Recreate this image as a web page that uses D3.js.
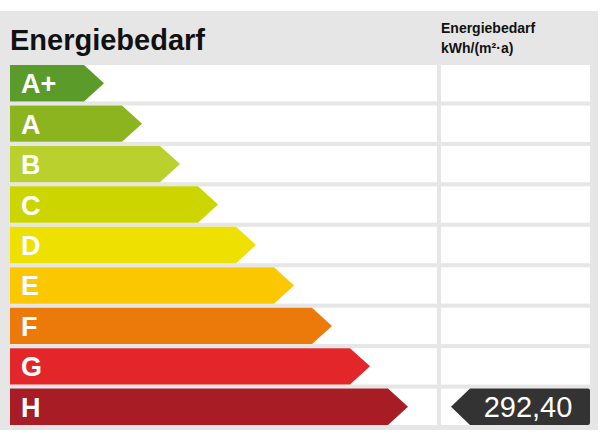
<!DOCTYPE html>
<html><head><meta charset="utf-8">
<script src="https://cdn.jsdelivr.net/npm/d3@7"></script>
<style>body{margin:0;background:#fff}text{font-family:"Liberation Sans",Arial,sans-serif}</style>
</head><body><svg id="c" width="600" height="443"></svg>
<script>
const classes = ["A+","A","B","C","D","E","F","G","H"];
const colors = ["#5b9b2a","#8bb41f","#bad02c","#cdd500","#eee000","#fbc700","#ec7a0b","#e2262a","#a71c25"];
const valueClass = "H";
const valueLabel = "292,40";
const title = "Energiebedarf";
const unitLines = ["Energiebedarf","kWh/(m²·a)"];

const svg = d3.select("#c");
svg.append("rect").attr("x",0).attr("y",11).attr("width",598).attr("height",419).attr("fill","#e6e6e6");
svg.append("text").attr("x",10).attr("y",50).attr("font-size",29).attr("font-weight","bold").attr("fill","#111").text(title);
unitLines.forEach((t,i)=>svg.append("text").attr("x",441).attr("y",33+i*20).attr("font-size",14).attr("font-weight","bold").attr("fill","#111").text(t));

const y = d3.scaleBand().domain(classes).range([65,425]).paddingInner(4/40).paddingOuter(0);
const x = d3.scaleLinear().domain([0,classes.length-1]).range([84,388]);
const h = y.bandwidth();
const g = svg.append("g");
classes.forEach((c,i)=>{
  const y0=y(c);
  g.append("rect").attr("x",10).attr("y",y0).attr("width",427).attr("height",h).attr("fill","#fff");
  g.append("rect").attr("x",441).attr("y",y0).attr("width",149).attr("height",h).attr("fill","#fff");
  const xe=x(i), tip=20;
  g.append("path").attr("d",`M10,${y0}H${xe}L${xe+tip},${y0+h/2}L${xe},${y0+h}H10Z`).attr("fill",colors[i]);
  g.append("text").attr("x",21).attr("y",y0+h/2+10).attr("font-size",27).attr("font-weight","bold").attr("fill","#fff").text(c);
  if(c===valueClass){
    g.append("path").attr("d",`M451,${y0+h/2}L470,${y0}H588Q590,${y0} 590,${y0+2}V${y0+h-2}Q590,${y0+h} 588,${y0+h}H470Z`).attr("fill","#333");
    g.append("text").attr("x",528).attr("y",y0+h/2+10).attr("text-anchor","middle").attr("font-size",29).attr("fill","#fff").text(valueLabel);
  }
});
</script></body></html>
